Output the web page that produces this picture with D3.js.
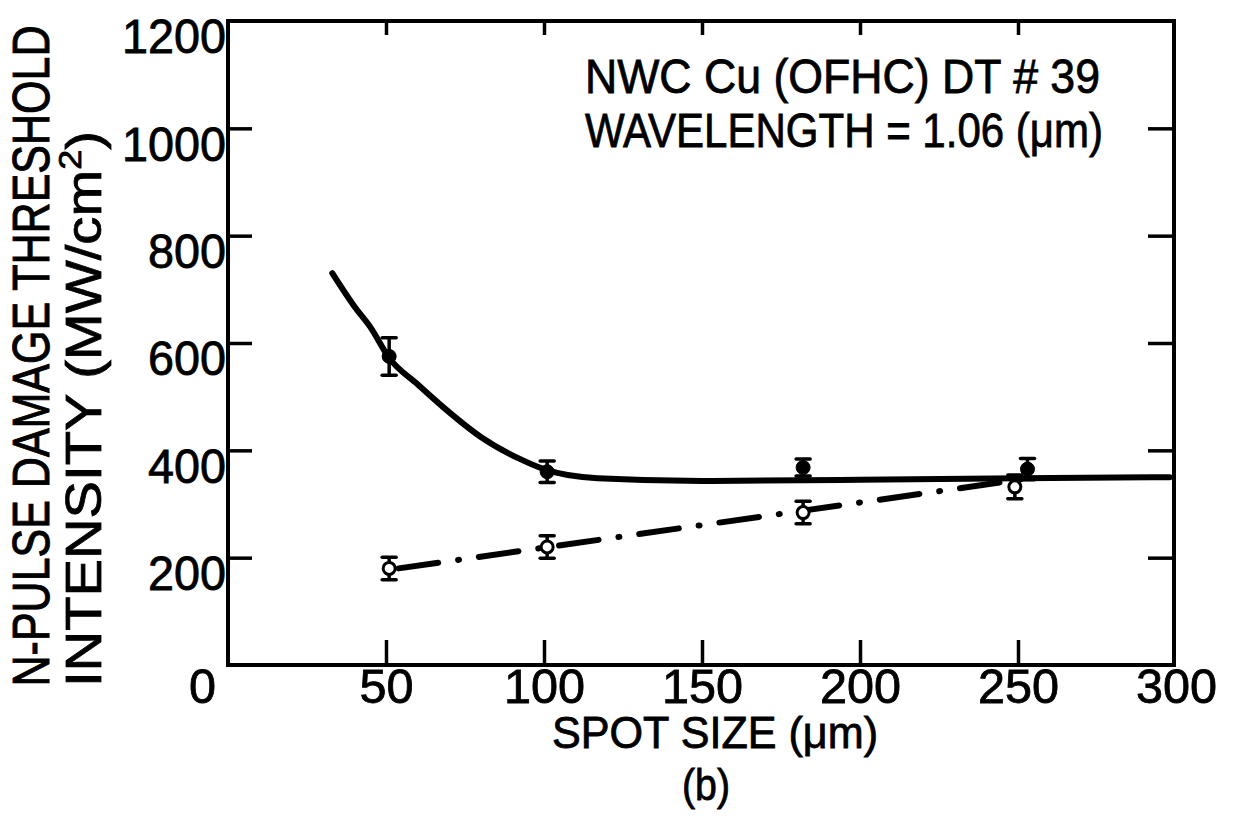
<!DOCTYPE html>
<html>
<head>
<meta charset="utf-8">
<script src="https://cdn.jsdelivr.net/npm/d3@7"></script>
<style>
  body { margin: 0; background: #fff; }
  text { font-family: "Liberation Sans", Arial, sans-serif; fill: #000; stroke: #000; stroke-width: 0.8px; }
</style>
</head>
<body>
<div id="container"></div>
<script>
/* CONSTANTS AND GLOBALS */
const width = 1240,
  height = 825;

// data
const xTicks = [0, 50, 100, 150, 200, 250, 300];
const yTicks = [200, 400, 600, 800, 1000, 1200];

// filled circles (solid fitted curve)
const solidX = [51, 101, 182, 253];
const solidY = [575, 360, 368, 365];
const solidErr = [35, 20, 16, 20];

// open circles (dash-dot line)
const openX = [51, 101, 182, 249];
const openY = [180, 220, 284, 332];
const openErr = [21, 21, 21, 22];

// hand drawn solid curve through the filled points
const curveX = [33, 40, 45, 51, 60, 68, 80, 92, 100, 117, 150, 200, 250, 298];
const curveY = [730, 668, 630, 572, 523, 481, 425, 385, 365, 348, 343, 345, 348, 350];

// dash-dot line through the open points
const dashX = [54, 255];
const dashY = [180, 349];

const noteLines = ["NWC Cu (OFHC) DT # 39", "WAVELENGTH = 1.06 (\u03bcm)"];

/* SCALES */
const xScale = d3.scaleLinear().domain([0, 300]).range([228, 1176]);
const yScale = d3.scaleLinear().domain([0, 1200]).range([665, 21]);

const svg = d3.select("#container")
  .append("svg")
  .attr("width", width)
  .attr("height", height);

// + FRAME (box around plot)
svg.append("rect")
  .attr("x", xScale(0))
  .attr("y", yScale(1200))
  .attr("width", xScale(300) - xScale(0) - 2)
  .attr("height", yScale(0) - yScale(1200))
  .attr("fill", "none")
  .attr("stroke", "#000")
  .attr("stroke-width", 4);

// + AXES - inward ticks on all 4 sides
const inner = xTicks.slice(1, -1);
const innerY = yTicks.slice(0, -1);

svg.append("g")
  .attr("transform", `translate(0,${yScale(0)})`)
  .call(d3.axisBottom(xScale).tickValues(inner).tickSize(-25).tickFormat(""))
  .call(g => g.select(".domain").remove());

svg.append("g")
  .attr("transform", `translate(0,${yScale(1200)})`)
  .call(d3.axisTop(xScale).tickValues(inner).tickSize(-14).tickFormat(""))
  .call(g => g.select(".domain").remove());

svg.append("g")
  .attr("transform", `translate(${xScale(0)},0)`)
  .call(d3.axisLeft(yScale).tickValues(innerY).tickSize(-24).tickFormat(""))
  .call(g => g.select(".domain").remove());

svg.append("g")
  .attr("transform", `translate(${xScale(300) - 2},0)`)
  .call(d3.axisRight(yScale).tickValues(innerY).tickSize(-26).tickFormat(""))
  .call(g => g.select(".domain").remove());

svg.selectAll(".tick line")
  .attr("stroke", "#000")
  .attr("stroke-width", 3.5);

// tick labels
const xLab = svg.append("g")
  .attr("transform", `translate(0,${yScale(0)})`)
  .call(d3.axisBottom(xScale).tickValues(xTicks).tickSize(0).tickPadding(0).tickFormat(d3.format("d")))
  .call(g => g.select(".domain").remove());
xLab.selectAll("text")
  .attr("y", 38)
  .attr("dy", 0)
  .attr("dx", d => d === 0 ? -26 : 0)
  .attr("font-size", 48)
  .attr("textLength", d => String(d).length * 27)
  .attr("lengthAdjust", "spacingAndGlyphs");

const yLab = svg.append("g")
  .attr("transform", `translate(${xScale(0) - 2},0)`)
  .call(d3.axisLeft(yScale).tickValues(yTicks).tickSize(0).tickPadding(0).tickFormat(d3.format("d")))
  .call(g => g.select(".domain").remove());
yLab.selectAll("text")
  .attr("dy", "0.66em")
  .attr("font-size", 48)
  .attr("textLength", d => String(d).length * 26)
  .attr("lengthAdjust", "spacingAndGlyphs");

svg.selectAll(".tick text").attr("fill", "#000").attr("font-family", "Liberation Sans, Arial, sans-serif");

// + AXIS TITLES
svg.append("text")
  .attr("x", 715)
  .attr("y", 748)
  .attr("text-anchor", "middle")
  .attr("font-size", 44)
  .attr("textLength", 326)
  .attr("lengthAdjust", "spacingAndGlyphs")
  .text("SPOT  SIZE  (\u03bcm)");

svg.append("text")
  .attr("x", 706)
  .attr("y", 800)
  .attr("text-anchor", "middle")
  .attr("font-size", 44)
  .attr("textLength", 48)
  .attr("lengthAdjust", "spacingAndGlyphs")
  .text("(b)");

// y title line 1 - stretched a little to look like the tall lettering
svg.append("text")
  .attr("transform", "translate(49,356) rotate(-90) scale(1,1.2)")
  .attr("text-anchor", "middle")
  .attr("font-size", 43)
  .text("N-PULSE DAMAGE THRESHOLD");

const yt2 = svg.append("text")
  .attr("transform", "translate(101,409) rotate(-90)")
  .attr("text-anchor", "middle")
  .attr("font-size", 50)
  .attr("textLength", 556)
  .attr("lengthAdjust", "spacingAndGlyphs");
yt2.append("tspan").text("INTENSITY   (MW/cm");
yt2.append("tspan").attr("dy", -20).attr("font-size", 32).text("2");
yt2.append("tspan").attr("dy", 20).text(")");

// + NOTE
svg.selectAll("text.note")
  .data(noteLines)
  .join("text")
  .attr("class", "note")
  .attr("x", 585)
  .attr("y", (d, i) => 93 + i * 54)
  .attr("font-size", 48)
  .attr("textLength", (d, i) => i === 0 ? 515 : 518)
  .attr("lengthAdjust", "spacingAndGlyphs")
  .text(d => d);

// + LINES
const line = d3.line()
  .x(d => xScale(d[0]))
  .y(d => yScale(d[1]))
  .curve(d3.curveMonotoneX);

svg.append("path")
  .datum(d3.zip(curveX, curveY))
  .attr("d", line)
  .attr("fill", "none")
  .attr("stroke", "#000")
  .attr("stroke-width", 6)
  .attr("stroke-linecap", "round");

svg.append("path")
  .datum(d3.zip(dashX, dashY))
  .attr("d", line)
  .attr("fill", "none")
  .attr("stroke", "#000")
  .attr("stroke-width", 6)
  .attr("stroke-linecap", "round")
  .attr("stroke-dasharray", "40,20,1,20");

// + ERROR BARS AND POINTS
function drawPoints(xs, ys, errs, filled) {
  const pts = d3.range(xs.length).map(i => ({x: xs[i], y: ys[i], e: errs[i]}));
  const g = svg.append("g");
  g.selectAll("line.bar")
    .data(pts)
    .join("line")
    .attr("x1", d => xScale(d.x)).attr("x2", d => xScale(d.x))
    .attr("y1", d => yScale(d.y - d.e)).attr("y2", d => yScale(d.y + d.e))
    .attr("stroke", "#000").attr("stroke-width", 3.5);
  [-1, 1].forEach(s => {
    g.selectAll(null)
      .data(pts)
      .join("line")
      .attr("x1", d => xScale(d.x) - 7).attr("x2", d => xScale(d.x) + 7)
      .attr("y1", d => yScale(d.y + s * d.e)).attr("y2", d => yScale(d.y + s * d.e))
      .attr("stroke", "#000").attr("stroke-width", 3.5)
      .attr("stroke-linecap", "round");
  });
  g.selectAll("circle")
    .data(pts)
    .join("circle")
    .attr("cx", d => xScale(d.x))
    .attr("cy", d => yScale(d.y))
    .attr("r", filled ? 7 : 6)
    .attr("fill", filled ? "#000" : "#fff")
    .attr("stroke", "#000")
    .attr("stroke-width", filled ? 1 : 3);
}

drawPoints(openX, openY, openErr, false);
drawPoints(solidX, solidY, solidErr, true);
</script>
</body>
</html>
